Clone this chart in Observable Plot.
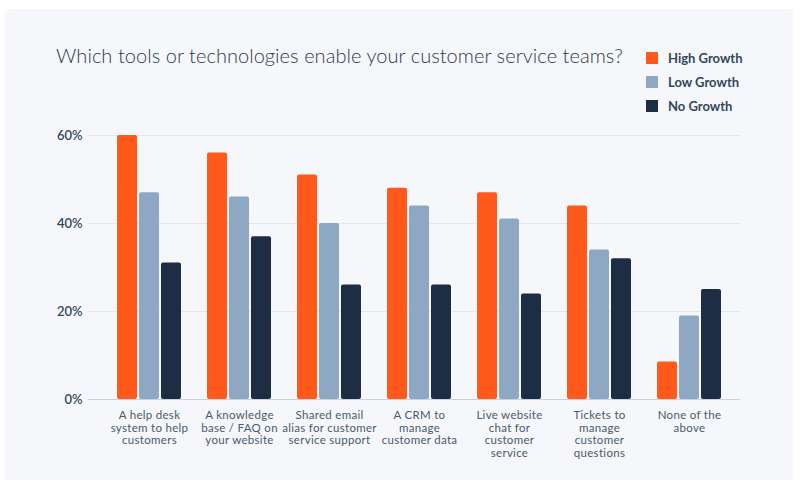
<!DOCTYPE html>
<html>
<head>
<meta charset="utf-8">
<script src="https://cdn.jsdelivr.net/npm/d3@7"></script>
<script src="https://cdn.jsdelivr.net/npm/@observablehq/plot@0.6"></script>
<style>
  html, body { margin: 0; padding: 0; background: #ffffff; width: 800px; height: 486px; overflow: hidden; }
  body { position: relative; font-family: Lato, "Noto Sans", sans-serif; }
  #panel { position: absolute; left: 5px; top: 9px; width: 788px; height: 471px; background: #f5f7fb; border-radius: 3px; }
  #title { position: absolute; left: 56px; top: 43px; font-size: 20px; font-weight: 300; color: #2b3a4b; white-space: nowrap; letter-spacing: 0.05px; }
  #legend { position: absolute; left: 646px; top: 46px; }
  .item { display: flex; align-items: center; height: 24px; font-size: 13px; font-weight: 700; color: #33475b; }
  .sw { width: 12px; height: 12px; margin-right: 10px; }
  .layer { position: absolute; left: 0; top: 120px; }
  #chart svg text { letter-spacing: 0.3px; }
</style>
</head>
<body>
<div id="panel"></div>
<div id="title"></div>
<div id="legend"></div>
<div id="grid" class="layer"></div>
<div id="chart" class="layer"></div>
<script>
const titleText = "Which tools or technologies enable your customer service teams?";
const categories = [
  "A help desk\nsystem to help\ncustomers",
  "A knowledge\nbase / FAQ on\nyour website",
  "Shared email\nalias for customer\nservice support",
  "A CRM to\nmanage\ncustomer data",
  "Live website\nchat for\ncustomer\nservice",
  "Tickets to\nmanage\ncustomer\nquestions",
  "None of the\nabove"
];
const series = ["High Growth", "Low Growth", "No Growth"];
const highGrowth = [60, 56, 51, 48, 47, 44, 8.5];
const lowGrowth  = [47, 46, 40, 44, 41, 34, 19];
const noGrowth   = [31, 37, 26, 26, 24, 32, 25];
const yTicks = [0, 20, 40, 60];
const colors = ["#ff5a1b", "#8ea8c4", "#1c2d44"];

const seriesValues = [highGrowth, lowGrowth, noGrowth];
const data = categories.flatMap((c, i) =>
  series.map((s, j) => ({category: c, series: s, value: seriesValues[j][i]}))
);

document.getElementById("title").textContent = titleText;
const legend = document.getElementById("legend");
series.forEach((s, j) => {
  const item = document.createElement("div");
  item.className = "item";
  const sw = document.createElement("span");
  sw.className = "sw";
  sw.style.background = colors[j];
  const t = document.createElement("span");
  t.textContent = s;
  item.appendChild(sw);
  item.appendChild(t);
  legend.appendChild(item);
});

const common = {
  width: 800,
  height: 360,
  marginTop: 15,
  marginBottom: 81,
  marginLeft: 88,
  marginRight: 60,
  style: {background: "transparent", fontFamily: "Lato, 'Noto Sans', sans-serif", overflow: "visible"},
  y: {domain: [0, 60], axis: null}
};

// Background layer: gridlines, baseline and y tick labels (full frame width)
const gridLayer = Plot.plot({
  ...common,
  marks: [
    Plot.ruleY(yTicks.filter(d => d > 0), {stroke: "#e2e7ee", strokeWidth: 1}),
    Plot.ruleY([0], {stroke: "#c9d3df", strokeWidth: 1}),
    Plot.text(yTicks, {y: d => d, text: d => d + "%", frameAnchor: "left", textAnchor: "end", dx: -6, fontSize: 13, fontWeight: 600, fill: "#33475b"})
  ]
});
document.getElementById("grid").appendChild(gridLayer);

// Foreground layer: grouped bars and category labels
const chart = Plot.plot({
  ...common,
  fx: {domain: categories, paddingInner: 0.29, paddingOuter: 0.245, align: 0.6, label: null},
  x: {domain: series, paddingInner: 0.1, paddingOuter: 0, axis: null},
  color: {domain: series, range: colors},
  marks: [
    Plot.barY(data, {fx: "category", x: "series", y: "value", fill: "series", rx: 2}),
    Plot.axisFx({anchor: "bottom", tickSize: 0, tickPadding: 10.5, fontSize: 11.5, lineHeight: 1.1, fill: "#4a5a6b", label: null})
  ]
});
document.getElementById("chart").appendChild(chart);
</script>
</body>
</html>
